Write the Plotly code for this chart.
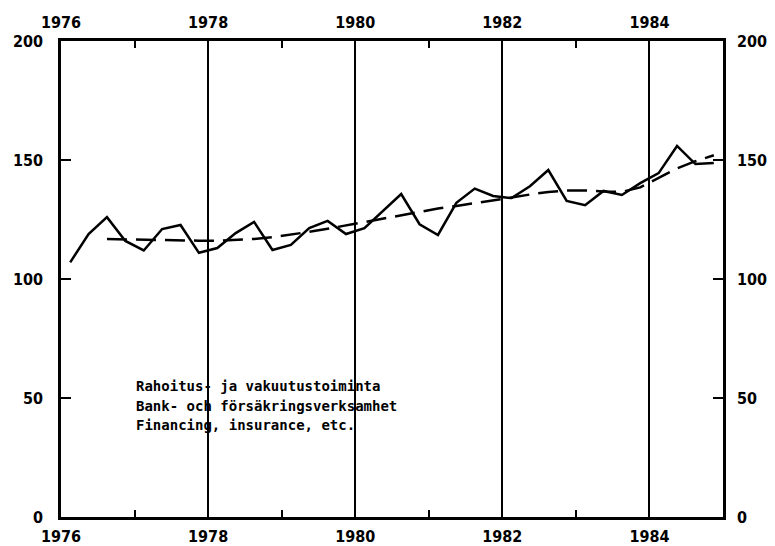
import plotly.graph_objects as go

# Quarterly data 1976Q1 - 1984Q4
quarters = [1976.125 + 0.25 * i for i in range(36)]
values = [107, 118.9, 126, 116, 112, 121, 122.7, 111,
          113, 119.3, 124, 112.2, 114.3, 121.4, 124.4, 118.9,
          121.4, 128.6, 135.7, 123, 118.5, 132, 138, 134.9,
          134, 139, 145.8, 132.8, 131, 137, 135.3, 140.3,
          144.5, 155.9, 148.3, 148.7]

trend_x = [1976.625 + 0.25 * i for i in range(34)]
trend = [116.8, 116.6, 116.5, 116.3, 116.2, 116.1, 116.1, 116.3,
         116.8, 117.6, 118.6, 119.8, 121.1, 122.5, 124.0, 125.5,
         127.0, 128.4, 129.6, 130.7, 131.8, 133.0, 134.2, 135.5,
         136.6, 137.2, 137.2, 136.8, 136.6, 138.5, 142.5, 146.5,
         149.5, 152.0]

x_ticks = [1976, 1978, 1980, 1982, 1984]
y_ticks = [0, 50, 100, 150, 200]
label_lines = ["Rahoitus- ja vakuutustoiminta",
               "Bank- och försäkringsverksamhet",
               "Financing, insurance, etc."]
label_y = [55.0, 46.6, 38.7]

tick_font = dict(family="DejaVu Sans Condensed", size=16, color="black",
                 weight="bold")

fig = go.Figure()
fig.add_trace(go.Scatter(x=quarters, y=values, mode="lines",
                         line=dict(color="black", width=2.5), showlegend=False))
fig.add_trace(go.Scatter(x=trend_x, y=trend, mode="lines",
                         line=dict(color="black", width=2.5, dash="20px,9px"),
                         showlegend=False))
# invisible trace to activate secondary axes
fig.add_trace(go.Scatter(x=[1976], y=[0], xaxis="x2", yaxis="y2",
                         mode="markers", marker=dict(opacity=0), showlegend=False,
                         hoverinfo="skip"))

common_x = dict(range=[1976, 1985], tickvals=x_ticks,
                ticktext=[str(v) for v in x_ticks],
                ticks="inside", ticklen=0, tickwidth=2, tickcolor="black",
                showline=True, linecolor="black", linewidth=2.5,
                tickfont=tick_font, zeroline=False, automargin=False,
                minor=dict(tickvals=[1977, 1979, 1981, 1983], ticks="inside",
                           ticklen=7, tickwidth=2, tickcolor="black", showgrid=False))
common_y = dict(range=[0, 200], tickvals=y_ticks,
                ticktext=[str(v) for v in y_ticks],
                ticks="inside", ticklen=10, tickwidth=2, tickcolor="black",
                showline=True, linecolor="black", linewidth=2.5,
                tickfont=tick_font, showgrid=False, zeroline=False,
                automargin=False)

fig.update_layout(
    width=767, height=538,
    margin=dict(l=53, r=52, t=33, b=29),
    paper_bgcolor="white", plot_bgcolor="white",
    xaxis=dict(**common_x, side="bottom", showgrid=True, gridcolor="black",
               gridwidth=2, ticklabelstandoff=3),
    xaxis2=dict(**common_x, side="top", overlaying="x", showgrid=False,
                ticklabelstandoff=4),
    yaxis=dict(**common_y, side="left", ticklabelstandoff=12),
    yaxis2=dict(**common_y, side="right", overlaying="y", ticklabelstandoff=8),
)

for t, yv in zip(label_lines, label_y):
    fig.add_annotation(x=1976.99, y=yv, xref="x", yref="y",
                       text=t, showarrow=False, xanchor="left", yanchor="middle",
                       font=dict(family="DejaVu Sans Mono", size=14, color="black",
                                 weight="bold"))

fig.write_html("out.html")
